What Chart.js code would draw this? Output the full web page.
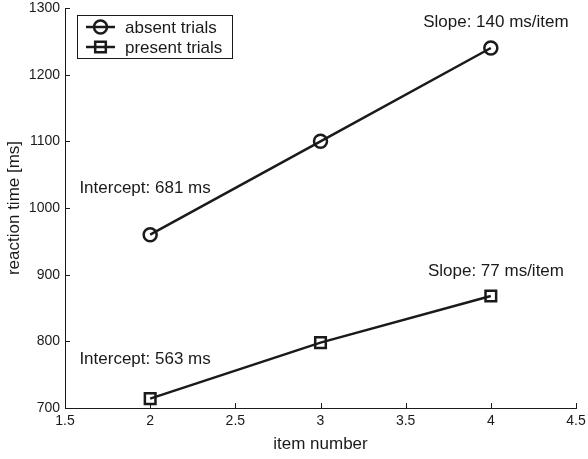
<!DOCTYPE html>
<html>
<head>
<meta charset="utf-8">
<script src="https://cdn.jsdelivr.net/npm/chart.js@4/dist/chart.umd.min.js"></script>
<style>
html,body{margin:0;padding:0;background:#fff;}
#wrap{width:588px;height:459px;}
</style>
</head>
<body>
<div id="wrap"><canvas id="c" width="588" height="459"></canvas></div>
<script>
// ---- data ----
const itemNumbers = [2, 3, 4];
const absentRT = [960, 1100, 1240];
const presentRT = [714, 798, 868];
const seriesLabels = ['absent trials', 'present trials'];
const xTicks = [1.5, 2, 2.5, 3, 3.5, 4, 4.5];
const yTicks = [700, 800, 900, 1000, 1100, 1200, 1300];
const annotationTexts = ['Intercept: 681 ms', 'Slope: 140 ms/item', 'Intercept: 563 ms', 'Slope: 77 ms/item'];
const annotationX = [1.97, 4.03, 1.97, 4.03];
const annotationY = [1029, 1279, 773, 905];

const FONT = '"Liberation Sans", Arial, Helvetica, sans-serif';
const INK = '#1a1a1a';

const inwardTicks = {
  id: 'inwardTicks',
  afterDraw(chart) {
    const ctx = chart.ctx;
    const xs = chart.scales.x, ys = chart.scales.y;
    const len = 5;
    ctx.save();
    ctx.strokeStyle = INK;
    ctx.lineWidth = 1;
    xs.ticks.forEach(t => {
      const px = Math.round(xs.getPixelForValue(t.value)) + 0.5;
      ctx.beginPath();
      ctx.moveTo(px, ys.bottom);
      ctx.lineTo(px, ys.bottom - len);
      ctx.stroke();
    });
    ys.ticks.forEach(t => {
      const py = Math.round(ys.getPixelForValue(t.value)) + 0.5;
      ctx.beginPath();
      ctx.moveTo(xs.left, py);
      ctx.lineTo(xs.left + len, py);
      ctx.stroke();
    });
    ctx.restore();
  }
};

const annotations = {
  id: 'annotations',
  afterDatasetsDraw(chart) {
    const ctx = chart.ctx;
    const xs = chart.scales.x, ys = chart.scales.y;
    ctx.save();
    ctx.fillStyle = INK;
    ctx.font = '17px ' + FONT;
    ctx.textAlign = 'center';
    ctx.textBaseline = 'middle';
    annotationTexts.forEach((t, i) => {
      ctx.fillText(t, xs.getPixelForValue(annotationX[i]), ys.getPixelForValue(annotationY[i]));
    });
    ctx.restore();
  }
};

const boxLegend = {
  id: 'boxLegend',
  afterDraw(chart) {
    const ctx = chart.ctx;
    const ca = chart.chartArea;
    const bx = ca.left + 12, by = ca.top + 7;
    ctx.save();
    ctx.font = '17px ' + FONT;
    let maxW = 0;
    chart.data.datasets.forEach(d => { maxW = Math.max(maxW, ctx.measureText(d.label).width); });
    const bw = 48 + maxW + 10, bh = 43;
    ctx.fillStyle = '#fff';
    ctx.fillRect(bx, by, bw, bh);
    ctx.strokeStyle = INK;
    ctx.lineWidth = 1;
    ctx.strokeRect(Math.round(bx) + 0.5, Math.round(by) + 0.5, Math.round(bw), bh);
    chart.data.datasets.forEach((d, i) => {
      const cy = by + 12 + i * 20;
      ctx.strokeStyle = d.borderColor;
      ctx.lineWidth = d.borderWidth;
      ctx.beginPath();
      ctx.moveTo(bx + 9, cy);
      ctx.lineTo(bx + 38, cy);
      ctx.stroke();
      ctx.fillStyle = 'rgba(0,0,0,0)';
      ctx.strokeStyle = d.pointBorderColor;
      ctx.lineWidth = d.pointBorderWidth;
      Chart.helpers.drawPoint(ctx, {pointStyle: d.pointStyle, rotation: 0, radius: d.pointRadius, borderWidth: d.pointBorderWidth}, bx + 23.5, cy);
      ctx.fillStyle = INK;
      ctx.textAlign = 'left';
      ctx.textBaseline = 'middle';
      ctx.fillText(d.label, bx + 48, cy + 1);
    });
    ctx.restore();
  }
};

new Chart(document.getElementById('c'), {
  type: 'line',
  data: {
    datasets: [
      {
        label: seriesLabels[0],
        data: itemNumbers.map((x, i) => ({x: x, y: absentRT[i]})),
        borderColor: INK, borderWidth: 2.5,
        pointStyle: 'circle', pointRadius: 6.5,
        pointBorderColor: INK, pointBorderWidth: 2.5,
        pointBackgroundColor: 'rgba(0,0,0,0)',
        fill: false, tension: 0
      },
      {
        label: seriesLabels[1],
        data: itemNumbers.map((x, i) => ({x: x, y: presentRT[i]})),
        borderColor: INK, borderWidth: 2.5,
        pointStyle: 'rect', pointRadius: 7.5,
        pointBorderColor: INK, pointBorderWidth: 2.5,
        pointBackgroundColor: 'rgba(0,0,0,0)',
        fill: false, tension: 0
      }
    ]
  },
  options: {
    responsive: false,
    animation: false,
    events: [],
    layout: { padding: { top: 8, right: 12, bottom: 0, left: 0 }, autoPadding: false },
    plugins: { legend: { display: false }, tooltip: { enabled: false } },
    scales: {
      x: {
        type: 'linear', min: 1.5, max: 4.5,
        afterBuildTicks: s => { s.ticks = xTicks.map(v => ({value: v})); },
        afterFit: s => { s.height = 51; s.paddingLeft = 0; s.paddingRight = 0; },
        grid: { display: false, drawTicks: false },
        border: { display: true, color: INK, width: 1 },
        ticks: { color: INK, font: { family: FONT, size: 14 }, padding: 5, maxRotation: 0, callback: v => String(v) },
        title: { display: true, text: 'item number', color: INK, font: { family: FONT, size: 17 }, padding: { top: 0, bottom: 4 } }
      },
      y: {
        type: 'linear', min: 700, max: 1300,
        afterBuildTicks: s => { s.ticks = yTicks.map(v => ({value: v})); },
        afterFit: s => { s.width = 65; s.paddingTop = 0; s.paddingBottom = 0; },
        grid: { display: false, drawTicks: false },
        border: { display: true, color: INK, width: 1 },
        ticks: { color: INK, font: { family: FONT, size: 14 }, padding: 5, callback: v => String(v) },
        title: { display: true, text: 'reaction time [ms]', color: INK, font: { family: FONT, size: 17 }, padding: { top: 4, bottom: 0 } }
      }
    }
  },
  plugins: [inwardTicks, annotations, boxLegend]
});
</script>
</body>
</html>
